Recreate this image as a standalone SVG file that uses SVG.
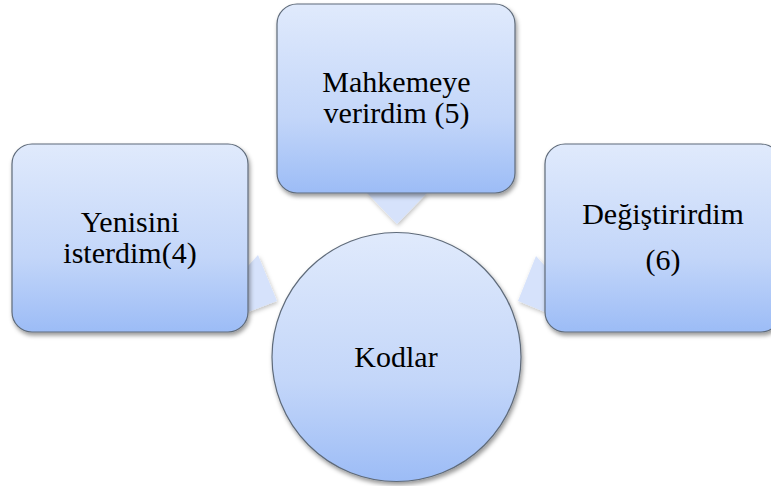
<svg xmlns="http://www.w3.org/2000/svg" width="771" height="486" viewBox="0 0 771 486">
<defs>
<linearGradient id="g" x1="0" y1="0" x2="0" y2="1">
<stop offset="0" stop-color="#e0eafc"/>
<stop offset="0.6" stop-color="#c3d6f9"/>
<stop offset="1" stop-color="#9cbcf6"/>
</linearGradient>
<filter id="sh" x="-10%" y="-10%" width="125%" height="125%">
<feDropShadow dx="1.5" dy="3" stdDeviation="2.2" flood-color="#000" flood-opacity="0.4"/>
</filter>
<filter id="shp" x="-20%" y="-20%" width="150%" height="150%">
<feDropShadow dx="1" dy="2" stdDeviation="2" flood-color="#000" flood-opacity="0.25"/>
</filter>
</defs>
<style>
.box{fill:url(#g);stroke:#5f6b7a;stroke-width:1.2;filter:url(#sh)}
.ptr{fill:#d6e2fb;stroke:none;filter:url(#shp)}
text{font-size:30px;fill:#000;text-anchor:middle}
</style>
<rect width="771" height="486" fill="#fff"/>
<g id="connectors">
<polygon class="ptr" points="248,266 258,255 277,301 248,312"/>
<polygon class="ptr" points="367,193 427,193 397,224"/>
<polygon class="ptr" points="545,266 536,256 518,301 545,312"/>
</g>
<g font-family="'Liberation Serif', Tinos, 'Times New Roman', 'DejaVu Serif', serif">
<g id="node-kodlar">
<circle class="box" cx="396.5" cy="357" r="124.5"/>
<text x="396" y="367">Kodlar</text>
</g>
<g id="node-yenisini">
<rect class="box" x="12" y="144" width="236" height="188" rx="20"/>
<text x="130" y="232">Yenisini</text>
<text x="130" y="263">isterdim(4)</text>
</g>
<g id="node-mahkemeye">
<rect class="box" x="277" y="4" width="238" height="189" rx="20"/>
<text x="396.5" y="92">Mahkemeye</text>
<text x="396.5" y="123">verirdim (5)</text>
</g>
<g id="node-degistirirdim">
<rect class="box" x="545" y="144" width="236" height="188" rx="20"/>
<text x="663" y="224">Değiştirirdim</text>
<text x="663" y="270">(6)</text>
</g>
</g>
</svg>
